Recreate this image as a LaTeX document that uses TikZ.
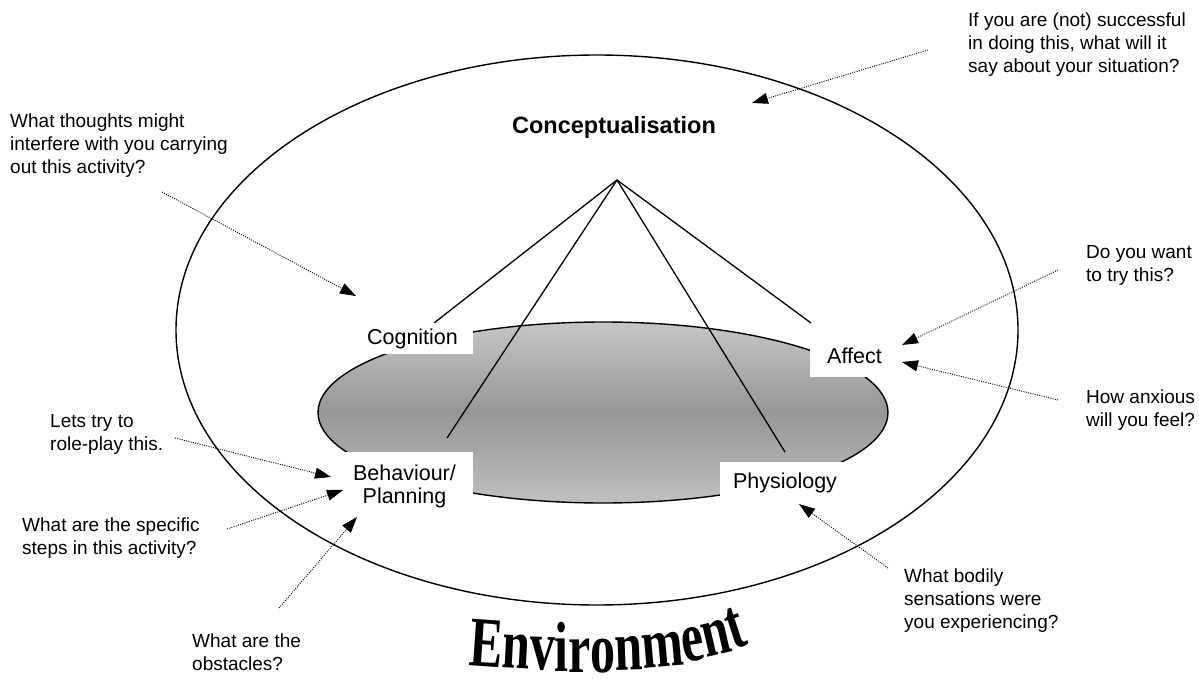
\documentclass[tikz,border=0pt]{standalone}
\usepackage{fontspec}
\setmainfont{Liberation Sans}
\newfontfamily\envfont{Liberation Serif}
\usetikzlibrary{arrows.meta}
\definecolor{topc}{RGB}{198,198,198}
\definecolor{midc}{RGB}{150,150,150}
\definecolor{botc}{RGB}{192,192,192}
\begin{document}
\begin{tikzpicture}[x=1pt,y=-1pt,
  q/.style={font=\fontsize{19}{23}\selectfont, align=left, anchor=base west, inner sep=0},
  labbox/.style={fill=white, draw=none, inner sep=0},
  lab/.style={font=\fontsize{21.5}{23}\selectfont, align=center, anchor=base, inner sep=0},
  ptr/.style={line width=0.9pt, dash pattern=on 1pt off 1.3pt, -{Triangle[length=16pt,width=11pt]}},
  spoke/.style={line width=1.3pt},
  envl/.style={font=\envfont\bfseries\fontsize{50}{50}\selectfont, anchor=base west, inner sep=0}]
\useasboundingbox (0,0) rectangle (1199,679);
% outer environment ellipse
\draw[line width=1.4pt] (597,330) ellipse [x radius=421, y radius=275];
% grey ellipse
\path[top color=topc, bottom color=botc, middle color=midc] (603,412.5) ellipse [x radius=285, y radius=90.5];
\draw[line width=1.4pt] (603,412.5) ellipse [x radius=285, y radius=90.5];
% spokes
\coordinate (apex) at (617,180);
\coordinate (cogend) at (434,323);
\coordinate (behend) at (447,438);
\coordinate (phyend) at (785,452);
\coordinate (affend) at (811,323);
\draw[spoke] (apex) -- (cogend);
\draw[spoke] (apex) -- (behend);
\draw[spoke] (apex) -- (phyend);
\draw[spoke] (apex) -- (affend);
% label boxes
\node[labbox, minimum width=118, minimum height=31] (cogbox) at (414,338.5) {};
\node[labbox, minimum width=87, minimum height=42] (affbox) at (853.5,356) {};
\node[labbox, minimum width=138, minimum height=60] (behbox) at (404,482) {};
\node[labbox, minimum width=130, minimum height=43] (phybox) at (785,483.5) {};
\node[lab] (cog) at (412.5,344) {Cognition};
\node[lab] (aff) at (854.5,363) {Affect};
\node[lab] (beh) at (404.5,503) {Behaviour/\\Planning};
\node[lab] (phy) at (785,488) {Physiology};
\node[font=\bfseries\fontsize{23.5}{26}\selectfont, anchor=base, inner sep=0] (concept) at (614,134) {Conceptualisation};
% questions (anchored at the baseline of their last line)
\node[q] (q1) at (968,73) {If you are (not) successful\\in doing this, what will it\\say about your situation?};
\node[q] (q2) at (10,174) {What thoughts might\\interfere with you carrying\\out this activity?};
\node[q] (q3) at (1086,281) {Do you want\\to try this?};
\node[q] (q4) at (1086,426) {How anxious\\will you feel?};
\node[q] (q5) at (50,450) {Lets try to\\role-play this.};
\node[q] (q6) at (22,554) {What are the specific\\steps in this activity?};
\node[q] (q7) at (192,670) {What are the\\obstacles?};
\node[q] (q8) at (904,628) {What bodily\\sensations were\\you experiencing?};
% pointers
\coordinate (p1s) at (928,50);   \coordinate (p1e) at (752,103);
\coordinate (p2s) at (162,192);  \coordinate (p2e) at (356,296);
\coordinate (p3s) at (1058,270); \coordinate (p3e) at (902,345);
\coordinate (p4s) at (1058,400); \coordinate (p4e) at (902,362);
\coordinate (p5s) at (175,438);  \coordinate (p5e) at (331,477);
\coordinate (p6s) at (227,529);  \coordinate (p6e) at (343,490);
\coordinate (p7s) at (279,608);  \coordinate (p7e) at (357,517);
\coordinate (p8s) at (888,568);  \coordinate (p8e) at (799,504);
\foreach \i in {1,...,8} {\draw[ptr] (p\i s) -- (p\i e);}
% Environment (arched word)
\node[envl, rotate=-4, yscale=1.42] (env1) at (468,665) {E};
\node[envl, rotate=-3, yscale=1.42] (env2) at (501.4,667.5) {n};
\node[envl, rotate=-2, yscale=1.42] (env3) at (529.2,669.5) {v};
\node[envl, rotate=0, yscale=1.42] (env4) at (554.2,671) {i};
\node[envl, rotate=0, yscale=1.42] (env5) at (568.1,672) {r};
\node[envl, rotate=0, yscale=1.42] (env6) at (590.3,672) {o};
\node[envl, rotate=2, yscale=1.42] (env7) at (615.3,671) {n};
\node[envl, rotate=5, yscale=1.42] (env8) at (643.1,668.5) {m};
\node[envl, rotate=9, yscale=1.42] (env9) at (684.5,663) {e};
\node[envl, rotate=13, yscale=1.42] (env10) at (706.5,658) {n};
\node[envl, rotate=18, yscale=1.42] (env11) at (733.5,650) {t};
\end{tikzpicture}
\end{document}
